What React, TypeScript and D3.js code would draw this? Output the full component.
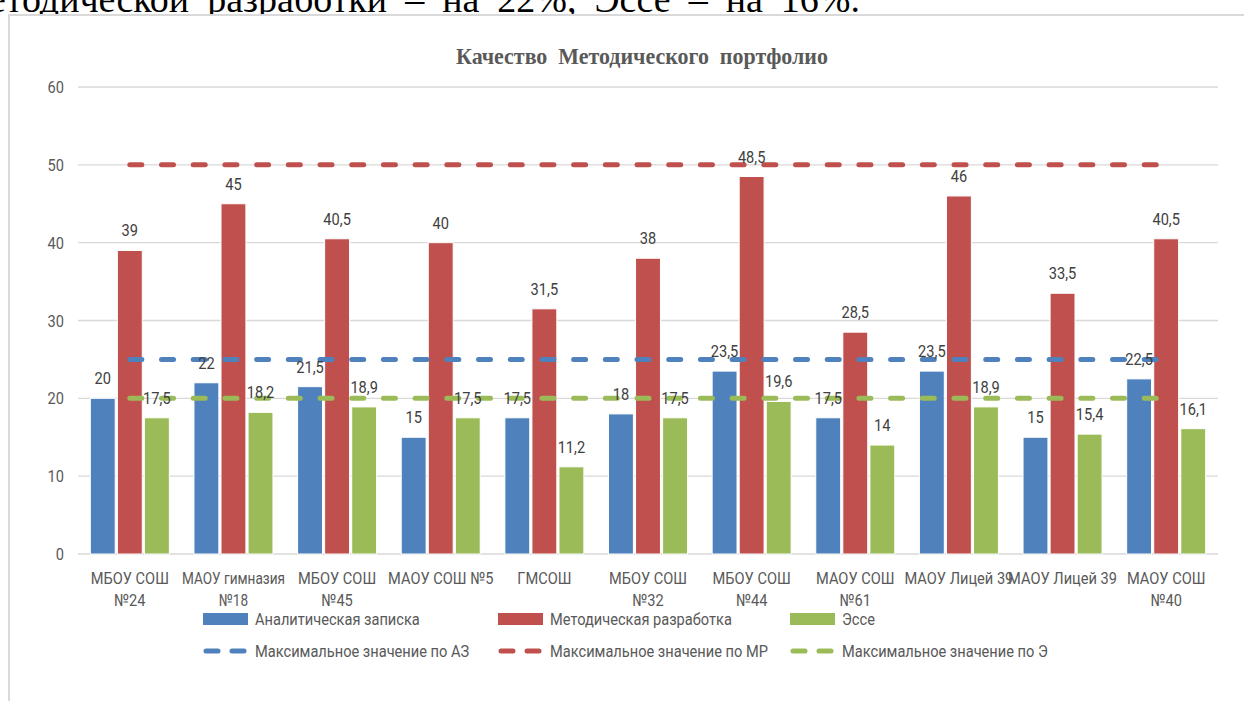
import * as d3 from "d3";

const categories = [
  "МБОУ СОШ\n№24",
  "МАОУ гимназия\n№18",
  "МБОУ СОШ\n№45",
  "МАОУ СОШ №5",
  "ГМСОШ",
  "МБОУ СОШ\n№32",
  "МБОУ СОШ\n№44",
  "МАОУ СОШ\n№61",
  "МАОУ Лицей 39",
  "МАОУ Лицей 39",
  "МАОУ СОШ\n№40",
];

const analytical = [20, 22, 21.5, 15, 17.5, 18, 23.5, 17.5, 23.5, 15, 22.5];
const methodical = [39, 45, 40.5, 40, 31.5, 38, 48.5, 28.5, 46, 33.5, 40.5];
const essay = [17.5, 18.2, 18.9, 17.5, 11.2, 17.5, 19.6, 14, 18.9, 15.4, 16.1];

const maxAZ = [25, 25, 25, 25, 25, 25, 25, 25, 25, 25, 25];
const maxMR = [50, 50, 50, 50, 50, 50, 50, 50, 50, 50, 50];
const maxE = [20, 20, 20, 20, 20, 20, 20, 20, 20, 20, 20];

const yTicks = [0, 10, 20, 30, 40, 50, 60];

const barSeries = [
  { name: "Аналитическая записка", values: analytical, color: "#4F81BD" },
  { name: "Методическая разработка", values: methodical, color: "#C0504D" },
  { name: "Эссе", values: essay, color: "#9BBB59" },
];
const lineSeries = [
  { name: "Максимальное значение по АЗ", values: maxAZ, color: "#4F81BD" },
  { name: "Максимальное значение по МР", values: maxMR, color: "#C0504D" },
  { name: "Максимальное значение по Э", values: maxE, color: "#9BBB59" },
];

const W = 1244;
const H = 701;
const FONT = "Roboto, 'Noto Sans', sans-serif";
const SX = 0.86; // narrow the text a bit, like Calibri
const fmt = (v: number) => String(v).replace(".", ",");

type TProps = {
  x: number;
  y: number;
  anchor?: "start" | "middle" | "end";
  size?: number;
  fill?: string;
  lines: string[];
  lh?: number;
  sx?: number;
};

// condensed text, one or more lines
function T({ x, y, anchor = "start", size = 17, fill = "#595959", lines, lh = 22, sx = SX }: TProps) {
  return (
    <text
      transform={`translate(${x},${y}) scale(${sx},1)`}
      textAnchor={anchor}
      fontFamily={FONT}
      fontSize={size}
      fill={fill}
    >
      {lines.map((ln, k) => (
        <tspan key={k} x={0} y={k * lh}>
          {ln}
        </tspan>
      ))}
    </text>
  );
}

export default function App() {
  const x = d3.scaleBand<number>().domain(d3.range(categories.length)).range([78, 1218]);
  const y = d3.scaleLinear().domain([0, 60]).range([554, 87]);
  const groupW = 79;
  const off = (x.bandwidth() - groupW) / 2;
  const xs = d3
    .scaleBand<number>()
    .domain(d3.range(barSeries.length))
    .range([off, off + groupW])
    .paddingInner(0.08);
  const cx = (i: number) => (x(i) as number) + x.bandwidth() / 2;
  const line = d3
    .line<number>()
    .x((_, i) => cx(i))
    .y((d) => y(d));

  const legendX = [203, 498, 790];

  return (
    <div style={{ position: "absolute", left: 0, top: 0, width: W, height: H, overflow: "hidden", background: "#fff" }}>
      <svg width={W} height={H} style={{ display: "block" }}>
        {/* text of the page above the chart */}
        <text
          x={860}
          y={12}
          textAnchor="end"
          fontFamily="'Liberation Serif', serif"
          fontSize={38}
          fill="#000"
          wordSpacing={8.5}
        >
          методической разработки – на 22%, Эссе – на 16%.
        </text>
        <rect x={9} y={15} width={1300} height={800} fill="#fff" stroke="#d9d9d9" strokeWidth={2} />

        <text
          x={642}
          y={64}
          textAnchor="middle"
          fontFamily="'Liberation Serif', serif"
          fontWeight="bold"
          fontSize={24}
          fill="#595959"
          textLength={372}
          lengthAdjust="spacingAndGlyphs"
          style={{ whiteSpace: "pre" }}
        >
          {"Качество  Методического  портфолио"}
        </text>

        {/* grid + y axis */}
        {yTicks.map((t) => (
          <g key={t}>
            <line x1={78} x2={1218} y1={y(t)} y2={y(t)} stroke="#d9d9d9" strokeWidth={1.3} />
            <T x={64} y={y(t) + 6} anchor="end" lines={[String(t)]} />
          </g>
        ))}

        {/* bars */}
        {barSeries.map((s, si) =>
          s.values.map((v, i) => (
            <rect
              key={`${si}-${i}`}
              x={(x(i) as number) + (xs(si) as number)}
              y={y(v)}
              width={xs.bandwidth()}
              height={y(0) - y(v)}
              fill={s.color}
              stroke="#fff"
              strokeWidth={1}
            />
          ))
        )}

        {/* max value lines */}
        {lineSeries.map((s) => (
          <path
            key={s.name}
            d={line(s.values) || ""}
            fill="none"
            stroke={s.color}
            strokeWidth={5}
            strokeLinecap="round"
            strokeDasharray="12 19.7"
          />
        ))}

        {/* data labels */}
        {barSeries.map((s, si) =>
          s.values.map((v, i) => (
            <T
              key={`l${si}-${i}`}
              x={(x(i) as number) + (xs(si) as number) + xs.bandwidth() / 2}
              y={y(v) - 14}
              anchor="middle"
              fill="#404040"
              lines={[fmt(v)]}
            />
          ))
        )}

        {/* x axis labels, long ones squeezed into the band */}
        {categories.map((c, i) => (
          <T
            key={`c${i}`}
            x={cx(i)}
            y={584}
            anchor="middle"
            lines={c.split("\n")}
            sx={c.startsWith("МАОУ гимназия") ? 0.8 : SX}
          />
        ))}

        {/* legend */}
        {barSeries.map((s, si) => (
          <g key={`lg${si}`}>
            <rect x={legendX[si]} y={613} width={45} height={12} fill={s.color} />
            <T x={legendX[si] + 52} y={625} lines={[s.name]} />
          </g>
        ))}
        {lineSeries.map((s, si) => (
          <g key={`ll${si}`}>
            <line
              x1={legendX[si] + 3}
              x2={legendX[si] + 42}
              y1={651}
              y2={651}
              stroke={s.color}
              strokeWidth={5}
              strokeLinecap="round"
              strokeDasharray="12 14"
            />
            <T x={legendX[si] + 52} y={657} lines={[s.name]} />
          </g>
        ))}
      </svg>
    </div>
  );
}
